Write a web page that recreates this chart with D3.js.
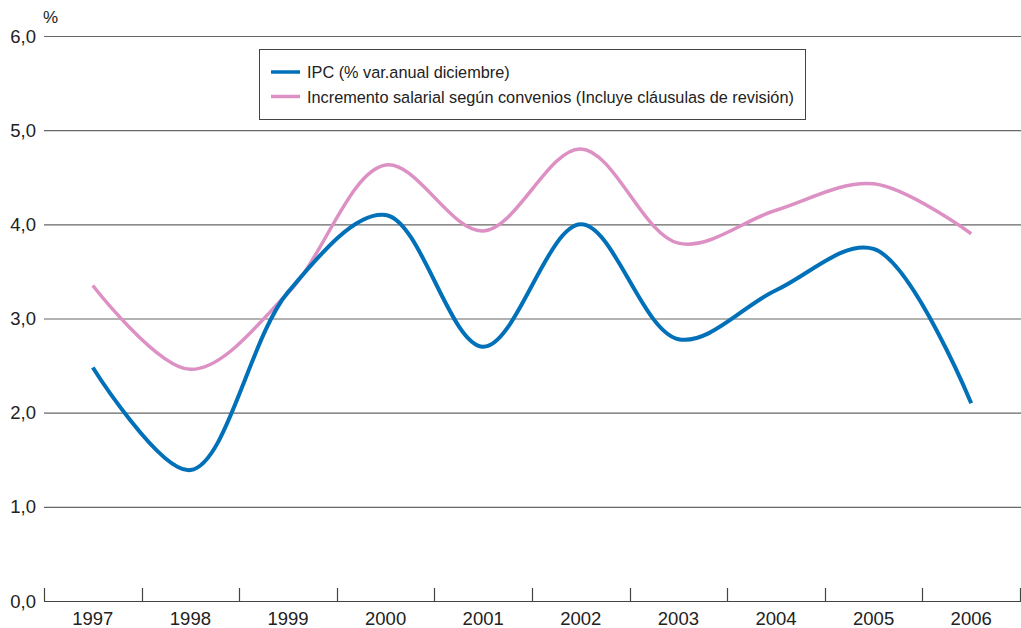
<!DOCTYPE html>
<html><head><meta charset="utf-8">
<script src="https://cdn.jsdelivr.net/npm/d3@7"></script>
<style>body{margin:0;background:#fff;}svg{display:block;font-family:"Liberation Sans",Arial,sans-serif;}</style>
</head><body><svg id="c" width="1021" height="628"></svg>
<script>
const years = ["1997","1998","1999","2000","2001","2002","2003","2004","2005","2006"];
const ipc = [2.48, 1.39, 3.28, 4.1, 2.7, 4.0, 2.78, 3.3, 3.74, 2.1];
const salarial = [3.35, 2.46, 3.27, 4.63, 3.93, 4.8, 3.8, 4.15, 4.43, 3.9];
const yTicks = [0,1,2,3,4,5,6];
const legendLabels = ["IPC (% var.anual diciembre)","Incremento salarial según convenios (Incluye cláusulas de revisión)"];

const svg = d3.select("#c");
const x = d3.scaleBand().domain(years).range([44,1020]);
const y = d3.scaleLinear().domain([0,6]).range([601,36]);

// grid
svg.append("g").selectAll("line").data(yTicks.filter(d=>d>0)).join("line")
  .attr("x1",44).attr("x2",1021).attr("y1",d=>y(d)+0.5).attr("y2",d=>y(d)+0.5)
  .attr("stroke","#666").attr("stroke-width",1.2);
// y labels
svg.append("g").selectAll("text").data(yTicks).join("text")
  .attr("x",36).attr("y",d=>y(d)+6.5).attr("text-anchor","end")
  .attr("font-size",18.5).attr("fill","#222").text(d=>d.toFixed(1).replace(".",","));
svg.append("text").attr("x",43).attr("y",23).attr("font-size",17).attr("fill","#222").text("%");

// x axis
const xa = svg.append("g").attr("transform","translate(0,601)");
xa.append("line").attr("x1",44).attr("x2",1021).attr("y1",0.5).attr("y2",0.5).attr("stroke","#444").attr("stroke-width",1.2);
const tickPos = years.map(d=>x(d)).concat([x.range()[1]]);
xa.selectAll("line.t").data(tickPos).join("line").attr("class","t")
  .attr("x1",d=>Math.round(d)+0.5).attr("x2",d=>Math.round(d)+0.5).attr("y1",0).attr("y2",-13)
  .attr("stroke","#444").attr("stroke-width",1.2);
xa.selectAll("text").data(years).join("text")
  .attr("x",d=>x(d)+x.bandwidth()/2).attr("y",24).attr("text-anchor","middle")
  .attr("font-size",18.5).attr("fill","#222").text(d=>d);

const line = d3.line().x((d,i)=>x(years[i])+x.bandwidth()/2).y(d=>y(d)).curve(d3.curveCatmullRom.alpha(0.5));
svg.append("path").datum(salarial).attr("d",line).attr("fill","none").attr("stroke","#dd90c3").attr("stroke-width",3.5);
svg.append("path").datum(ipc).attr("d",line).attr("fill","none").attr("stroke","#0070b8").attr("stroke-width",4);

// legend
const lg = svg.append("g");
lg.append("rect").attr("x",259.5).attr("y",49.5).attr("width",546).attr("height",70).attr("fill","#fff").attr("stroke","#444").attr("stroke-width",1);
const cols = ["#0070b8","#dd90c3"];
legendLabels.forEach((t,i)=>{
  const yy = 72 + i*24.5;
  lg.append("line").attr("x1",271).attr("x2",300).attr("y1",yy).attr("y2",yy).attr("stroke",cols[i]).attr("stroke-width",3.5);
  lg.append("text").attr("x",307).attr("y",yy+6).attr("font-size",16.3).attr("fill","#222").text(t);
});
</script></body></html>
